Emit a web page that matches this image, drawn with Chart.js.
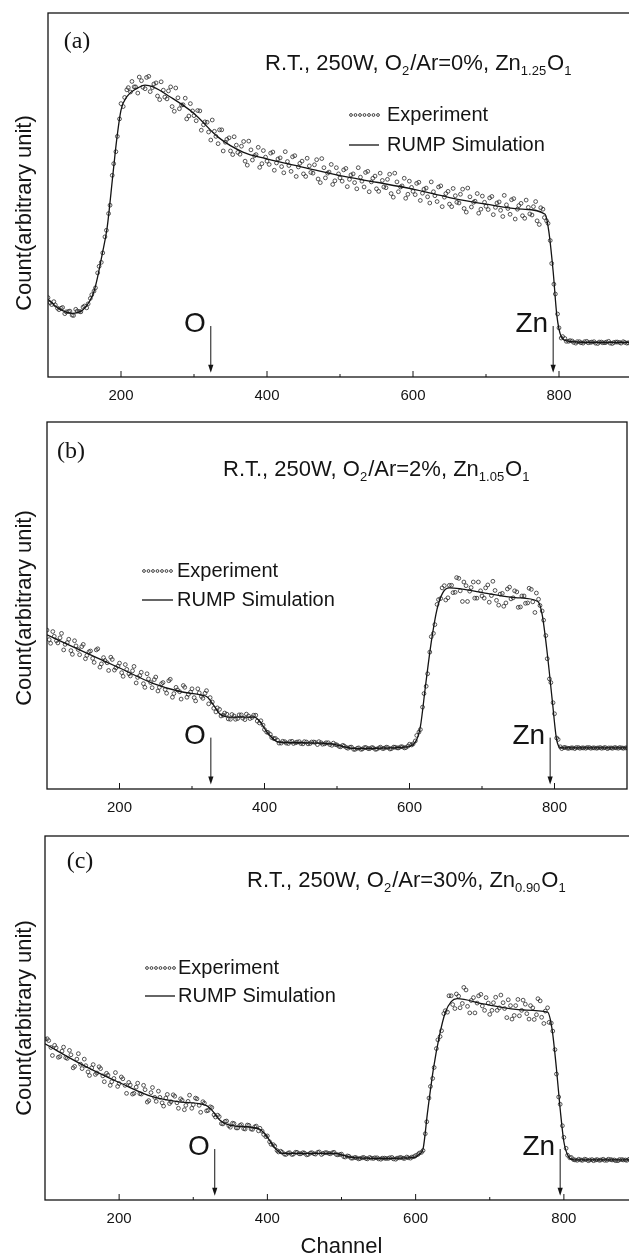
<!DOCTYPE html>
<html><head><meta charset="utf-8">
<script src="https://cdn.jsdelivr.net/npm/chart.js@4.4.0/dist/chart.umd.min.js"></script>
<style>
html,body{margin:0;padding:0;background:#fff;overflow:hidden;width:629px;height:1256px;position:relative;}
canvas{position:absolute;left:0;display:block;}
</style></head><body>
<canvas id="c0" width="660" height="410" style="top:0px"></canvas>
<canvas id="c1" width="660" height="410" style="top:410px"></canvas>
<canvas id="c2" width="660" height="440" style="top:820px"></canvas>
<script>
// ---------------- DATA ----------------
const expChannels = [
100,105,110,115,120,125,130,135,140,145,150,155,160,165,170,175,180,185,190,195,
200,205,210,215,220,225,230,235,240,245,250,255,260,265,270,275,280,285,290,295,
300,305,310,315,320,325,330,335,340,345,350,355,360,365,370,375,380,385,390,395,
400,405,410,415,420,425,430,435,440,445,450,455,460,465,470,475,480,485,490,495,
500,505,510,515,520,525,530,535,540,545,550,555,560,565,570,575,580,585,590,595,
600,605,610,615,620,625,630,635,640,645,650,655,660,665,670,675,680,685,690,695,
700,705,710,715,720,725,730,735,740,745,750,755,760,765,770,775,780,785,790,795,
800,805,810,815,820,825,830,835,840,845,850,855,860,865,870,875,880,885,890,895,
900];
const expChannels2 = [
103,108,113,118,123,128,133,138,143,148,153,158,163,168,173,178,183,188,193,198,
203,208,213,218,223,228,233,238,243,248,253,258,263,268,273,278,283,288,293,298,
303,308,313,318,323,328,333,338,343,348,353,358,363,368,373,378,383,388,393,398,
403,408,413,418,423,428,433,438,443,448,453,458,463,468,473,478,483,488,493,498,
503,508,513,518,523,528,533,538,543,548,553,558,563,568,573,578,583,588,593,598,
603,608,613,618,623,628,633,638,643,648,653,658,663,668,673,678,683,688,693,698,
703,708,713,718,723,728,733,738,743,748,753,758,763,768,773,778,783,788,793,798,
803,808,813,818,823,828,833,838,843,848,853,858,863,868,873,878,883,888,893,898];

const expA = [
21.8,19.9,19.8,18.5,19.1,17.9,18.1,16.9,18.1,17.9,19.5,20.1,22.6,24.5,30.4,34.1,40.3,47.2,58.6,66.1,
75.1,76.8,79.5,81.2,79.7,82.4,79.6,82.3,78.4,80.5,77.2,81.1,76.9,78.6,74.3,79.4,73.7,74.8,70.9,75.1,
71.8,73.2,67.8,70.1,67.3,70.6,66.1,67.9,62.1,65.3,62.1,66.0,61.7,63.4,59.3,64.8,59.6,61.1,57.6,62.2,
59.3,61.5,56.8,59.9,57.8,61.9,58.1,60.5,55.1,58.7,55.8,60.1,56.2,58.3,54.4,60.0,54.7,56.3,52.9,57.5,
54.7,56.9,52.3,55.5,53.4,57.5,53.8,56.2,50.9,54.6,51.7,56.0,52.2,54.3,50.4,56.0,50.9,52.5,49.1,53.8,
51.0,53.2,48.5,51.6,49.5,53.6,49.8,52.2,46.8,50.4,47.5,51.8,48.0,50.2,46.3,51.9,46.7,48.3,45.0,49.7,
46.9,49.2,44.6,47.8,45.8,49.9,46.3,48.7,43.4,47.1,44.3,48.6,44.8,46.8,42.9,46.5,43.8,42.2,31.2,22.8,
13.5,11.1,9.8,10.0,9.5,9.7,9.4,9.7,9.4,9.6,9.3,9.6,9.4,9.6,9.3,9.5,9.6,9.3,9.5,9.4,
9.6];
const expA2 = [
20.4,20.7,18.9,18.9,17.4,18.0,17.0,18.6,18.0,19.2,19.0,21.6,23.6,28.6,31.5,38.5,44.9,55.4,61.9,70.9,
74.3,78.9,78.3,79.7,78.0,81.4,79.2,82.6,79.5,80.8,76.2,78.8,76.4,79.7,73.0,76.7,74.7,76.6,71.7,73.1,
70.4,73.1,69.3,70.0,65.1,67.5,64.1,67.9,64.5,65.7,61.1,63.7,61.2,64.7,58.2,62.4,60.8,63.1,58.6,60.4,
58.4,61.8,58.8,60.2,56.1,59.2,56.5,60.8,57.7,59.3,55.1,58.0,56.0,59.7,53.4,57.5,56.0,58.4,53.9,55.8,
53.8,57.3,54.3,55.8,51.7,54.9,52.2,56.5,53.6,55.2,51.0,54.0,52.0,55.7,49.4,53.6,52.2,54.6,50.2,52.1,
50.1,53.5,50.5,51.9,47.8,50.9,48.2,52.5,49.4,51.0,46.8,49.8,47.8,51.6,45.3,49.5,48.0,50.4,46.1,48.0,
46.0,49.6,46.6,48.1,44.1,47.3,44.7,49.0,46.1,47.7,43.6,46.6,44.5,48.2,41.9,46.1,42.9,37.5,25.5,17.3,
10.7,10.6,9.8,9.9,9.3,9.7,9.3,9.8,9.5,9.7,9.2,9.6,9.4,9.8,9.2,9.6,9.5,9.7,9.3,9.5];
const simChannelsA = [100,115,133,148,157,163,168,174,181,189,194,200,208,222,233,244,267,300,333,367,400,450,500,550,600,650,700,750,781,786,792,797,803,811,839,900];
const simA = [21.3,18.8,17.5,18.5,20.8,23.5,27.5,33.5,41.0,55.8,65.0,73.3,77.0,79.3,80.2,79.7,77.0,72.4,65.9,61.8,59.9,57.6,55.3,53.5,51.6,49.3,47.5,46.1,44.7,40.1,29.0,17.0,11.1,9.9,9.5,9.5];

const expB = [
43.3,39.7,41.6,39.8,42.4,39.4,40.8,36.7,39.0,36.6,39.4,36.4,37.6,34.5,38.2,34.1,35.0,32.3,35.3,33.0,
34.3,30.7,32.6,30.8,33.4,30.4,31.8,27.7,30.0,27.6,30.5,27.7,29.0,26.1,29.9,26.0,27.0,24.5,27.7,25.8,
27.3,24.0,26.2,24.7,26.8,24.9,22.0,22.1,19.9,20.7,19.1,20.3,19.0,20.2,19.3,20.4,19.2,20.1,18.5,18.6,
16.2,15.4,14.0,13.8,12.5,13.0,12.5,12.9,12.4,12.8,12.4,12.9,12.3,12.8,12.7,12.9,12.2,12.6,12.1,12.5,
12.0,11.5,11.7,11.1,11.4,10.8,11.2,10.9,11.3,11.0,11.2,10.9,11.4,11.1,11.3,11.0,11.4,11.2,11.5,11.3,
12.2,12.3,14.6,16.2,26.0,31.4,41.5,44.8,51.6,54.8,51.5,55.5,53.5,57.6,54.0,56.4,51.1,54.9,52.0,56.4,
52.6,54.8,50.9,56.6,51.4,53.1,49.8,54.5,51.8,54.0,49.5,52.6,50.6,54.7,51.0,53.4,50.0,46.0,35.5,29.0,
20.5,13.5,11.0,11.3,11.1,11.2,11.3,11.1,11.2,11.3,11.1,11.2,11.2,11.1,11.3,11.2,11.1,11.2,11.3,11.1,
11.2];
const expB2 = [
40.7,42.9,40.4,41.2,37.9,39.9,37.7,40.4,38.0,38.8,35.5,37.4,35.6,37.9,33.2,35.8,34.4,35.9,32.4,33.5,
31.7,33.9,31.4,32.2,28.9,30.9,28.7,31.4,29.0,29.8,26.7,28.7,27.1,29.5,25.0,27.7,26.5,28.2,25.0,26.4,
24.9,27.3,25.2,26.1,23.2,23.7,21.0,21.7,20.1,20.4,19.0,19.9,19.2,20.2,18.9,19.9,19.5,20.1,18.0,17.4,
15.5,14.9,13.7,13.3,12.5,12.9,12.4,13.0,12.6,12.9,12.3,12.8,12.4,12.8,12.1,12.6,12.3,12.6,11.9,12.1,
11.6,11.9,11.3,11.4,10.8,11.1,10.8,11.3,11.0,11.3,10.8,11.2,11.0,11.4,10.9,11.4,11.2,11.5,11.2,11.7,
12.0,13.1,15.5,22.3,28.0,37.3,42.4,50.3,51.9,55.4,52.1,55.5,53.6,57.4,51.1,55.4,53.9,56.4,52.0,54.0,
52.0,55.6,52.7,54.1,50.1,53.3,50.7,55.0,52.1,53.7,49.6,52.6,50.7,54.4,48.1,51.7,48.5,41.8,30.0,23.5,
13.9,11.5,11.3,11.1,11.2,11.0,11.3,11.2,11.1,11.3,11.2,11.1,11.3,11.2,11.0,11.2,11.3,11.1,11.2,11.2];
const simChannelsB = [100,145,201,246,285,313,321,330,338,352,386,394,405,419,453,492,525,593,608,615,622,630,638,646,655,704,749,777,783,790,797,803,810,900];
const simB = [42.0,37.9,32.9,28.8,26.5,25.6,25.1,22.8,20.5,19.6,19.6,18.3,15.1,12.8,12.6,12.3,11.0,11.4,12.8,17.0,28.0,40.0,49.0,53.5,54.8,53.4,52.1,51.1,47.5,37.0,24.0,13.4,11.2,11.2];

const expC = [
44.2,43.8,39.7,41.8,39.4,42.0,38.9,39.9,36.7,40.2,36.1,36.9,34.2,37.2,34.9,36.1,32.5,34.3,32.5,35.0,
32.0,33.3,29.3,31.6,29.3,32.1,29.1,30.3,27.3,30.9,27.1,28.2,25.8,29.0,27.0,28.5,25.2,27.4,26.0,28.8,
26.2,27.8,24.1,26.6,24.6,25.4,22.8,22.9,20.9,21.7,20.0,21.0,19.8,20.7,19.5,20.5,19.4,20.3,19.7,18.0,
17.6,15.3,14.8,13.2,13.1,12.5,13.0,12.6,13.1,12.7,12.9,12.5,13.0,12.6,13.2,12.8,13.0,12.7,13.1,12.4,
12.6,11.8,12.0,11.5,11.6,11.4,11.7,11.3,11.5,11.6,11.3,11.5,11.4,11.6,11.3,11.5,11.7,11.4,11.6,11.8,
12.2,12.9,13.6,21.5,31.2,36.4,44.0,46.5,52.0,56.1,53.7,56.6,52.8,58.4,53.2,54.8,51.4,56.1,53.3,55.6,
51.0,54.2,52.1,56.3,52.6,55.0,49.7,53.4,50.6,54.9,51.2,53.4,49.6,55.3,50.2,51.9,48.8,46.4,34.6,26.3,
17.2,12.3,11.7,11.0,11.2,10.9,11.1,11.0,10.8,11.1,11.0,10.9,11.2,11.0,10.8,11.1,11.0,10.9,11.1,11.0,
11.0];
const expC2 = [
44.3,41.9,42.5,39.2,40.9,39.1,41.1,36.3,38.7,37.3,38.7,35.2,36.3,34.5,36.6,34.1,34.8,31.5,33.4,31.2,
33.8,31.5,32.3,29.1,31.0,29.2,31.5,26.9,29.5,28.2,29.9,26.7,28.0,26.5,28.9,26.7,27.8,24.8,27.1,25.2,
28.0,26.0,27.0,24.5,25.6,23.4,23.3,21.0,21.6,20.4,21.1,19.8,20.5,19.6,20.6,19.5,20.1,19.0,18.9,17.4,
16.0,15.2,13.6,13.4,12.6,12.9,12.5,13.1,12.7,13.0,12.4,12.9,12.7,13.1,12.5,13.0,12.8,13.0,12.5,12.5,
11.9,12.1,11.5,11.7,11.3,11.6,11.4,11.7,11.4,11.6,11.2,11.5,11.4,11.7,11.2,11.6,11.5,11.8,11.5,11.9,
12.5,13.1,18.2,28.0,33.4,41.6,44.9,51.2,51.6,56.1,52.6,56.0,54.0,57.7,51.4,55.6,54.1,56.5,52.1,54.1,
52.1,55.7,52.8,54.2,50.1,53.4,50.7,55.1,52.1,53.8,49.7,52.8,50.9,54.7,48.5,52.8,48.6,41.3,28.3,20.4,
14.2,11.6,11.1,10.9,11.0,11.2,10.8,11.1,11.0,10.9,11.2,10.9,11.1,11.0,10.8,11.1,11.0,11.2,10.9,11.0];
const simChannelsC = [100,148,203,246,284,317,325,336,350,388,398,409,420,491,513,556,599,605,610,616,624,632,640,648,656,691,746,778,784,790,795,800,806,814,900];
const simC = [42.9,37.4,32.0,28.3,26.9,26.0,24.7,21.9,20.5,19.6,17.8,14.6,12.8,12.8,11.7,11.4,11.7,12.6,14.0,24.0,36.0,45.0,51.5,54.5,55.3,53.9,52.2,51.6,47.0,36.0,25.0,16.0,12.0,11.0,11.0];

const tickChannels = [200, 400, 600, 800];
const minorTickChannels = [300, 500, 700];
const panelTags = ['(a)', '(b)', '(c)'];
const o2ArRatios = ['0%', '2%', '30%'];
const znContents = ['1.25', '1.05', '0.90'];
const oArrowChannels = [323, 326, 329];
const znArrowChannels = [792, 794, 795];
const seriesNames = ['Experiment', 'RUMP Simulation'];
const yTitle = 'Count(arbitrary unit)';
const xTitle = 'Channel';

// ---------------- LAYOUT / STYLE ----------------
const INK = '#141414';
const SANS = '"Liberation Sans", Arial, Helvetica, sans-serif';
const SERIF = '"Liberation Serif", "Times New Roman", serif';
const CANVAS_W = 660;
const layouts = [
  {canvasH:410, areaTop:13, areaBottom:377, areaLeft:48, areaRight:632, yTitleY:213, tag:[77,42], cond:[265,62], legX:[349,379], legText:387, legRows:[115,145]},
  {canvasH:410, areaTop:12, areaBottom:379, areaLeft:47, areaRight:627, yTitleY:198, tag:[71,42], cond:[223,58], legX:[142,173], legText:177, legRows:[161,190]},
  {canvasH:440, areaTop:16, areaBottom:380, areaLeft:45, areaRight:638, yTitleY:198, tag:[80,42], cond:[247,59], legX:[145,175], legText:178, legRows:[148,176]}
];
const expVals = [expA, expB, expC];
const expVals2 = [expA2, expB2, expC2];
const simChs = [simChannelsA, simChannelsB, simChannelsC];
const simVals = [simA, simB, simC];

function drawRich(ctx, x, y, parts, size, subSize) {
  ctx.textAlign = 'left';
  ctx.textBaseline = 'alphabetic';
  let cx = x;
  for (const [t, sub] of parts) {
    ctx.font = (sub ? subSize : size) + 'px ' + SANS;
    ctx.fillText(t, cx, y + (sub ? subSize * 0.42 : 0));
    cx += ctx.measureText(t).width + (sub ? 1 : 0);
  }
}

function drawArrow(ctx, xs, ys, ch, label) {
  const x = xs.getPixelForValue(ch);
  const yTop = ys.getPixelForValue(14);
  const yTip = ys.getPixelForValue(1.2);
  ctx.lineWidth = 1;
  ctx.beginPath(); ctx.moveTo(x, yTop); ctx.lineTo(x, yTip - 6); ctx.stroke();
  ctx.beginPath(); ctx.moveTo(x - 2.6, yTip - 8); ctx.lineTo(x + 2.6, yTip - 8); ctx.lineTo(x, yTip); ctx.closePath(); ctx.fill();
  ctx.font = '28px ' + SANS;
  ctx.textAlign = 'right'; ctx.textBaseline = 'alphabetic';
  ctx.fillText(label, x - 5, yTop + 6);
}

const annotPlugin = {
  id: 'annot',
  afterDraw(chart, args, opts) {
    const i = opts.index, L = layouts[i];
    const ctx = chart.ctx, a = chart.chartArea;
    const xs = chart.scales.x, ys = chart.scales.y;
    ctx.save();
    ctx.strokeStyle = INK; ctx.fillStyle = INK;
    // frame
    ctx.lineWidth = 1.3;
    ctx.strokeRect(a.left, a.top, a.right - a.left, a.bottom - a.top);
    // inward ticks
    ctx.lineWidth = 1;
    tickChannels.forEach(v => { const x = xs.getPixelForValue(v); ctx.beginPath(); ctx.moveTo(x, a.bottom); ctx.lineTo(x, a.bottom - 6); ctx.stroke(); });
    minorTickChannels.forEach(v => { const x = xs.getPixelForValue(v); ctx.beginPath(); ctx.moveTo(x, a.bottom); ctx.lineTo(x, a.bottom - 3); ctx.stroke(); });
    // y axis title
    ctx.save();
    ctx.translate(25, L.yTitleY); ctx.rotate(-Math.PI / 2);
    ctx.font = '22px ' + SANS; ctx.textAlign = 'center'; ctx.textBaseline = 'middle';
    ctx.fillText(yTitle, 0, 0);
    ctx.restore();
    // panel tag
    ctx.font = '24px ' + SERIF; ctx.textAlign = 'center'; ctx.textBaseline = 'middle';
    ctx.fillText(panelTags[i], L.tag[0], L.tag[1]);
    // condition text
    drawRich(ctx, L.cond[0], L.cond[1] + 8, [
      ['R.T., 250W, O', false], ['2', true], ['/Ar=' + o2ArRatios[i] + ', Zn', false],
      [znContents[i], true], ['O', false], ['1', true]
    ], 22, 13);
    // legend
    ctx.lineWidth = 0.8;
    for (let x = L.legX[0] + 2; x <= L.legX[1]; x += 4.5) {
      ctx.beginPath(); ctx.arc(x, L.legRows[0], 1.4, 0, Math.PI * 2); ctx.stroke();
    }
    ctx.lineWidth = 1.3;
    ctx.beginPath(); ctx.moveTo(L.legX[0], L.legRows[1]); ctx.lineTo(L.legX[1], L.legRows[1]); ctx.stroke();
    ctx.font = '20px ' + SANS; ctx.textAlign = 'left'; ctx.textBaseline = 'middle';
    ctx.fillText(seriesNames[0], L.legText, L.legRows[0]);
    ctx.fillText(seriesNames[1], L.legText, L.legRows[1]);
    // element arrows
    drawArrow(ctx, xs, ys, oArrowChannels[i], 'O');
    drawArrow(ctx, xs, ys, znArrowChannels[i], 'Zn');
    ctx.restore();
  }
};

function expPointStyle() {
  return { showLine: false, pointRadius: 1.9, pointBorderWidth: 0.8,
           pointBackgroundColor: 'rgba(0,0,0,0)', pointBorderColor: '#2a2a2a' };
}

function makeChart(i) {
  const L = layouts[i];
  return new Chart(document.getElementById('c' + i), {
    type: 'line',
    data: {
      datasets: [
        { label: seriesNames[1], data: simChs[i].map((c, k) => ({x: c, y: simVals[i][k]})),
          borderColor: INK, borderWidth: 1.3, pointRadius: 0, cubicInterpolationMode: 'monotone', fill: false },
        Object.assign({ label: seriesNames[0], data: expChannels.map((c, k) => ({x: c, y: expVals[i][k]})) }, expPointStyle()),
        Object.assign({ label: seriesNames[0] + ' ', data: expChannels2.map((c, k) => ({x: c, y: expVals2[i][k]})) }, expPointStyle())
      ]
    },
    options: {
      responsive: false, animation: false, devicePixelRatio: 1,
      events: [],
      layout: { padding: { top: L.areaTop, right: CANVAS_W - L.areaRight, bottom: 0, left: 0 } },
      plugins: { legend: { display: false }, tooltip: { enabled: false }, annot: { index: i } },
      scales: {
        x: {
          type: 'linear', min: 100, max: 900,
          afterBuildTicks: s => { s.ticks = tickChannels.map(v => ({ value: v })); },
          afterFit: s => { s.height = L.canvasH - L.areaBottom; },
          grid: { display: false }, border: { display: false },
          ticks: { font: { size: 15, family: SANS }, color: INK, padding: 2, maxRotation: 0, autoSkip: false, callback: v => String(v) },
          title: { display: i === 2, text: xTitle, font: { size: 22, family: SANS }, color: INK, padding: { top: 0, bottom: 0 } }
        },
        y: {
          min: 0, max: 100,
          afterFit: s => { s.width = L.areaLeft; },
          ticks: { display: false }, grid: { display: false }, border: { display: false },
          title: { display: false, text: yTitle }
        }
      }
    },
    plugins: [annotPlugin]
  });
}
[0, 1, 2].forEach(makeChart);
</script>
</body></html>
